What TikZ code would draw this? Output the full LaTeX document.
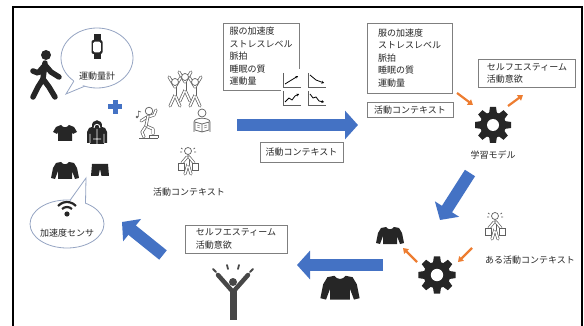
\documentclass[tikz,border=0pt]{standalone}
\usepackage{fontspec}
\newfontfamily\jpfont{Noto Sans CJK JP}
\usepackage{tikz}
\usetikzlibrary{arrows.meta,positioning,calc}

\definecolor{arrowblue}{RGB}{68,114,196}
\definecolor{arroworange}{RGB}{237,125,49}
\definecolor{icondark}{RGB}{38,38,38}
\definecolor{icongray}{RGB}{95,95,95}
\definecolor{boxgray}{RGB}{127,127,127}
\definecolor{bubbleline}{RGB}{150,165,195}

\begin{document}
\begin{tikzpicture}[x=1pt, y=-1pt,
    txtbox/.style={rectangle, draw=boxgray, line width=0.8pt, fill=white, inner sep=2pt, align=left, text=black!85, font=\jpfont\fontsize{9}{12.5}\selectfont},
    lbl/.style={inner sep=1pt, text=black!85, font=\jpfont\fontsize{9}{11}\selectfont},
    bluearrow/.style={draw=arrowblue, line width=12pt, -{Triangle[length=13pt,width=28pt]}},
    orangearrow/.style={draw=arroworange, line width=2.2pt, -{Triangle[length=5pt,width=6.5pt]}},
    bubble/.style={draw=bubbleline, line width=0.8pt, fill=white},
    outl/.style={draw=icongray, line width=0.7pt, double=white, double distance=1.6pt, line cap=round, line join=round},
    thin/.style={draw=icongray, line width=0.7pt, fill=white},
    walker/.pic={
        \fill[icondark] (0,-20) circle[radius=5];
        \draw[icondark, line width=5.5pt, line cap=round, line join=round]
            (-1,-12) -- (-3,4) (-3,4) -- (-8,12) -- (-13,22) (-3,4) -- (3,12) -- (9,22)
            (-1,-10) -- (-8,-2) -- (-13,-4) (-1,-10) -- (5,-3) -- (13,2);
    },
    watch/.pic={
        \fill[icondark] (-3.5,-12.5) rectangle (3.5,12.5);
        \fill[icondark, rounded corners=2pt] (-5.5,-7) rectangle (5.5,7);
        \fill[white, rounded corners=1.5pt] (-3.8,-5.3) rectangle (3.8,5.3);
    },
    wifi/.pic={
        \fill[icondark] (0,4) circle[radius=2.6];
        \draw[icondark, line width=2.2pt] (0,4) ++(225:7) arc[start angle=225, end angle=315, radius=7];
        \draw[icondark, line width=2.2pt] (0,4) ++(222:12) arc[start angle=222, end angle=318, radius=12];
    },
    tshirt/.pic={
        \fill[icondark] (-4,-8) -- (-9,-6) -- (-12,-1) -- (-8,1) -- (-7,-1) -- (-7,8) -- (7,8) -- (7,-1) -- (8,1) -- (12,-1) -- (9,-6) -- (4,-8)
            .. controls (2,-5) and (-2,-5) .. (-4,-8) -- cycle;
    },
    longsleeve/.pic={
        \fill[icondark] (-4,-8) -- (-9,-7) -- (-12,-2) -- (-14,8) -- (-10,9) -- (-7,1) -- (-7,9) -- (7,9) -- (7,1) -- (10,9) -- (14,8) -- (12,-2) -- (9,-7) -- (4,-8)
            .. controls (2,-5) and (-2,-5) .. (-4,-8) -- cycle;
    },
    hoodie/.pic={
        \fill[icondark] (-5,-6) -- (-8,-5) -- (-10,-1) -- (-10,10) -- (-7,10) -- (-7,11) -- (7,11) -- (7,10) -- (10,10) -- (10,-1) -- (8,-5) -- (5,-6)
            .. controls (6,-15) and (-6,-15) .. (-5,-6) -- cycle;
        \draw[white, line width=0.8pt] (-3,-5) .. controls (-3,-10) and (3,-10) .. (3,-5)
            (0,-4) -- (0,11) (-7,1) -- (-7,10) (7,1) -- (7,10) (-4,6) -- (4,6);
    },
    shorts/.pic={
        \fill[icondark] (-8,-6) -- (8,-6) -- (9,6) -- (1.5,6) -- (0,-1) -- (-1.5,6) -- (-9,6) -- cycle;
    },
    stepper/.pic={
        \draw[thin, fill=none] (-8,15) -- (11,15) (2,15) -- (2,12) -- (11,12) -- (11,15);
        \draw[outl] (-1,3) -- (6,6) -- (6,11) (-1,3) -- (-5,9) -- (-3,14);
        \draw[outl] (1,-6) -- (7,-8) -- (9,-13) (0,-6) -- (-6,-2);
        \draw[outl] (1,-7) -- (-1,3);
        \draw[thin] (2,-12) circle[radius=3.8];
        \fill[icongray] (-10,-6) circle[radius=1.4];
        \draw[icongray, line width=0.6pt] (-8.7,-6) -- (-8.7,-12) -- (-6,-11);
    },
    reading/.pic={
        \draw[thin] (-8,12) -- (-8,2) .. controls (-8,-3) and (8,-3) .. (8,2) -- (8,12);
        \draw[thin] (0,-7) circle[radius=4];
        \draw[thin] (-7,2) -- (0,4) -- (7,2) -- (7,10) -- (0,12) -- (-7,10) -- cycle (0,4) -- (0,12);
        \draw[icongray, line width=0.4pt] (-5,5) -- (-2,6) (-5,7) -- (-2,8) (2,6) -- (5,5) (2,8) -- (5,7);
    },
    stressed/.pic={
        \draw[outl] (0,4) -- (-3,14) (0,4) -- (3,14);
        \draw[outl] (0,-4) -- (0,5);
        \draw[outl] (-1,-3) -- (-6,3) (1,-3) -- (6,3);
        \draw[thin] (-10,3) rectangle (-4,10);
        \draw[thin] (4,3) rectangle (10,10);
        \draw[thin] (0,-9) circle[radius=3.5];
        \draw[icongray, line width=0.7pt] (-7,-12) -- (-5.5,-11) (-8,-8) -- (-6,-8) (5.5,-11) -- (7,-12) (6,-8) -- (8,-8);
    },
    dancers/.pic={
        \foreach \dx/\dy in {-10/3, 10/3, 0/-2}{
            \begin{scope}[shift={(\dx,\dy)}]
                \draw[outl] (0,4) -- (-5,15) (0,4) -- (5,15);
                \draw[outl] (0,-5) -- (0,4);
                \draw[outl] (-6,-14) -- (0,-4) -- (6,-14);
                \draw[thin] (0,-9) circle[radius=3.5];
            \end{scope}
        }
    },
    cheer/.pic={
        \fill[icondark!85] (0,-15) circle[radius=4];
        \draw[icondark!85, line width=4.5pt, line join=round, line cap=round] (-15,-22) -- (0,-5) -- (15,-22);
        \draw[icondark!85, line width=7pt] (0,-7) -- (0,23);
        \draw[icondark!85, line width=1.8pt, line cap=round] (-17,-25) -- (-20,-28) (-5,-28) -- (-6,-32) (5,-28) -- (6,-32) (17,-25) -- (20,-28);
    },
    gear/.pic={
        \fill[icondark] (0,0) circle[radius=13];
        \foreach \a in {0,45,...,315}
            \fill[icondark, rotate=\a] (-4.2,-10) -- (-3,-18) -- (3,-18) -- (4.2,-10) -- cycle;
        \fill[white] (0,0) circle[radius=6];
    },
    chart/.pic={
        \draw[icongray, line width=0.6pt] (-9,-7) -- (-9,7) -- (9,7);
        \draw[black, line width=0.8pt, line join=round, -{Stealth[length=2.5pt,width=3pt]}] #1;
    }
]
\useasboundingbox (0,0) rectangle (584,326);
\draw[line width=2pt] (13,330) -- (13,7) -- (582,7) -- (582,330);

\draw[bubble] (97,58) ellipse[x radius=36, y radius=30];
\fill[white] (74.5,79.5) -- (66,94) -- (85,84.5) -- cycle;
\draw[bubble, fill=none] (73.9,81) -- (66,94) -- (84.7,86.2);
\pic at (97,47) {watch};
\node[lbl] (meter) at (97,76) {運動量計};

\draw[bubble] (67,224) ellipse[x radius=37, y radius=24];
\fill[white] (70.5,201.5) -- (86,178) -- (85,204.5) -- cycle;
\draw[bubble, fill=none] (70.2,200.1) -- (86,178) -- (85.5,203.2);
\pic at (67,210) {wifi};
\node[lbl] (sensor) at (67,233) {加速度センサ};

\pic at (46,75) {walker};
\draw[arrowblue, line width=5pt] (108,107) -- (122,107) (115,100) -- (115,114);
\pic at (65,133) {tshirt};
\pic at (97,133) {hoodie};
\pic at (65,170) {longsleeve};
\pic at (100,170) {shorts};

\pic at (147,123) {stepper};
\pic at (185,88) {dancers};
\pic at (202,120) {reading};
\pic at (188,160) {stressed};
\node[lbl] (ctxlbl) at (189,192) {活動コンテキスト};

\node[txtbox, minimum width=76pt, minimum height=67pt] (featA) at (261,56.5) {服の加速度\\ストレスレベル\\脈拍\\睡眠の質\\運動量};
\fill[white] (281,69) rectangle (333,108);
\pic at (292,80) {chart={(-7,4) -- (6,-4)}};
\pic at (317,80) {chart={(-7,-5) -- (-1,0) -- (7,3)}};
\pic at (292,98) {chart={(-7,4) -- (-3,0) -- (0,2) -- (3,-2) -- (7,-4)}};
\pic at (317,98) {chart={(-7,-4) -- (-4,0) -- (-1,-1) -- (2,3) -- (7,4)}};
\node[txtbox, minimum width=83pt, minimum height=20pt, align=center] (ctxA) at (301.5,152) {活動コンテキスト};

\node[txtbox, minimum width=85pt, minimum height=70pt] (featB) at (409.5,58) {服の加速度\\ストレスレベル\\脈拍\\睡眠の質\\運動量};
\node[txtbox, minimum width=86pt, minimum height=15pt, inner sep=1pt, align=center] (ctxB) at (410,110) {活動コンテキスト};
\node[txtbox, minimum width=97pt, minimum height=28pt] (motivA) at (527,73.5) {セルフエスティーム\\活動意欲};
\pic at (493,125) {gear};
\node[lbl] (model) at (493,155) {学習モデル};

\pic at (495,225) {stressed};
\node[lbl] (somectx) at (530,260) {ある活動コンテキスト};
\pic at (390,235) {longsleeve};
\pic[scale=1.03] at (437,275) {gear};
\pic[scale=1.4] at (340,287) {longsleeve};

\node[txtbox, minimum width=102pt, minimum height=28pt] (motivB) at (236,239) {セルフエスティーム\\活動意欲};
\pic at (233,297) {cheer};

\coordinate (learnS) at (237,125);
\coordinate (learnE) at (358,125);
\coordinate (applyS) at (470,173);
\coordinate (applyE) at (440,220);
\coordinate (wearS) at (383,265);
\coordinate (wearE) at (297,265);
\coordinate (backS) at (163,255);
\coordinate (backE) at (122,222);
\draw[bluearrow] (learnS) -- (learnE);
\draw[bluearrow] (applyS) -- (applyE);
\draw[bluearrow] (wearS) -- (wearE);
\draw[bluearrow] (backS) -- (backE);

\coordinate (inA) at (457,93);
\coordinate (inB) at (473,105);
\coordinate (outA) at (508,106);
\coordinate (outB) at (523,95);
\coordinate (ctxIn) at (472,248);
\coordinate (ctxOut) at (458,262);
\coordinate (recS) at (417,262);
\coordinate (recE) at (403,248);
\draw[orangearrow] (inA) -- (inB);
\draw[orangearrow] (outA) -- (outB);
\draw[orangearrow] (ctxIn) -- (ctxOut);
\draw[orangearrow] (recS) -- (recE);
\end{tikzpicture}
\end{document}
